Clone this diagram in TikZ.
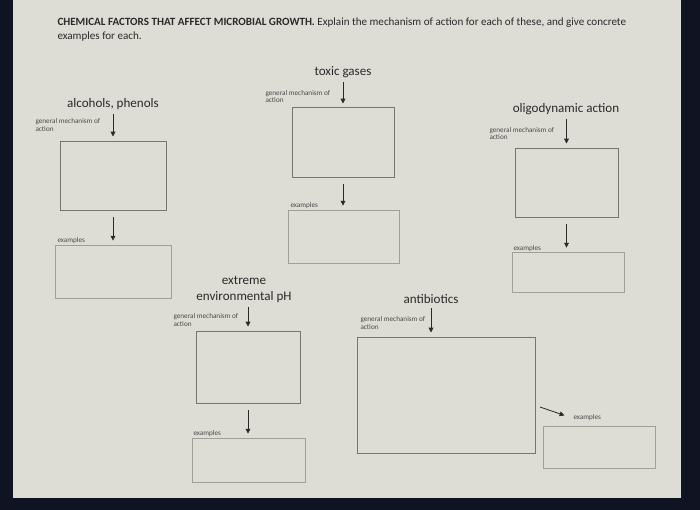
\documentclass[tikz,border=0pt]{standalone}
\usepackage{fontspec}
\setmainfont{Carlito}
\usetikzlibrary{fit,arrows.meta}

\definecolor{screen}{RGB}{16,20,34}
\definecolor{paper}{RGB}{221,221,214}
\definecolor{boxline}{RGB}{118,118,110}
\definecolor{exline}{RGB}{160,160,152}
\definecolor{ink}{RGB}{42,42,42}

\tikzset{every picture/.style={line width=0.75pt}}
\tikzset{
  topic/.style={text=ink, inner sep=0.75pt, align=center, font=\fontsize{9.8}{11.5}\selectfont},
  tinytext/.style={text=ink!85, anchor=west, inner sep=0.75pt, align=left, font=\fontsize{5.4}{5.8}\selectfont},
  gmbox/.style={draw=boxline, line width=0.75pt, inner sep=0pt},
  exbox/.style={draw=exline, line width=0.65pt, inner sep=0pt},
  flow/.style={draw=ink, line width=0.6pt, -{Triangle[width=3.6pt,length=3.6pt]}},
}

\begin{document}
\begin{tikzpicture}[x=0.75pt,y=0.75pt,yscale=-1,xscale=1]
%Screen and page
\fill [screen] (0,0) rectangle (700,510) ;
\fill [paper] (13,0) rectangle (681,498) ;
\useasboundingbox (0,0) rectangle (700,510) ;

% Text Node
\node [anchor=north west, inner sep=0.75pt, align=left, text=ink, font=\fontsize{8.3}{11}\selectfont] (title) at (56,16) {\textbf{CHEMICAL FACTORS THAT AFFECT MICROBIAL GROWTH.} Explain the mechanism of action for each of these, and give concrete\\examples for each.};

%alcohols, phenols
\node [topic] (alc) at (113,104) {alcohols, phenols};
\node [tinytext] (alcgmt) at (34,125) {general mechanism of\\action};
\node [gmbox, fit={(60,141) (166,210)}] (alcgm) {};
\node [tinytext] (alcext) at (56,241) {examples};
\node [exbox, fit={(55,245) (171,298)}] (alcex) {};
\draw [flow, shorten <=2pt, shorten >=3pt] (alc) -- (alc |- alcgm.north) ;
\draw [flow, shorten <=5pt, shorten >=3pt] (alcgm.south) -- (alcgm.south |- alcex.north) ;

%toxic gases
\node [topic] (tox) at (343,72) {toxic gases};
\node [tinytext] (toxgmt) at (264,96.5) {general mechanism of\\action};
\node [gmbox, fit={(292,108) (394,177)}] (toxgm) {};
\node [tinytext] (toxext) at (289,206) {examples};
\node [exbox, fit={(288,210) (399,263)}] (toxex) {};
\draw [flow, shorten <=2pt, shorten >=3pt] (tox) -- (tox |- toxgm.north) ;
\draw [flow, shorten <=5pt, shorten >=3pt] (toxgm.south) -- (toxgm.south |- toxex.north) ;

%oligodynamic action
\node [topic] (olig) at (566,109) {oligodynamic action};
\node [tinytext] (oliggmt) at (488,133.5) {general mechanism of\\action};
\node [gmbox, fit={(515,148) (618,217)}] (oliggm) {};
\node [tinytext] (oligext) at (512,249) {examples};
\node [exbox, fit={(512,252) (624,292)}] (oligex) {};
\draw [flow, shorten <=2pt, shorten >=3pt] (olig.south -| oliggm.north) -- (oliggm.north) ;
\draw [flow, shorten <=5pt, shorten >=3pt] (oliggm.south) -- (oliggm.south |- oligex.north) ;

%extreme environmental pH
\node [topic] (ph) at (244,289.5) {extreme\\environmental pH};
\node [tinytext] (phgmt) at (172,320) {general mechanism of\\action};
\node [gmbox, fit={(196,331) (300,403)}] (phgm) {};
\node [tinytext] (phext) at (192,434) {examples};
\node [exbox, fit={(192,438) (305,482)}] (phex) {};
\draw [flow, shorten <=2pt, shorten >=3pt] (ph.south -| phgm.north) -- (phgm.north) ;
\draw [flow, shorten <=5pt, shorten >=3pt] (phgm.south) -- (phgm.south |- phex.north) ;

%antibiotics
\node [topic] (abio) at (431,299) {antibiotics};
\node [tinytext] (abiogmt) at (359,323) {general mechanism of\\action};
\node [gmbox, fit={(357,337) (535,453)}] (abiogm) {};
\node [tinytext] (abioext) at (572,418) {examples};
\node [exbox, fit={(543,426) (655,468)}] (abioex) {};
\coordinate (abiofrom) at (540,407) ;
\draw [flow, shorten <=2pt, shorten >=3pt] (abio) -- (abio |- abiogm.north) ;
\draw [flow, shorten >=6pt] (abiofrom) -- (abioext.west) ;
\end{tikzpicture}
\end{document}
